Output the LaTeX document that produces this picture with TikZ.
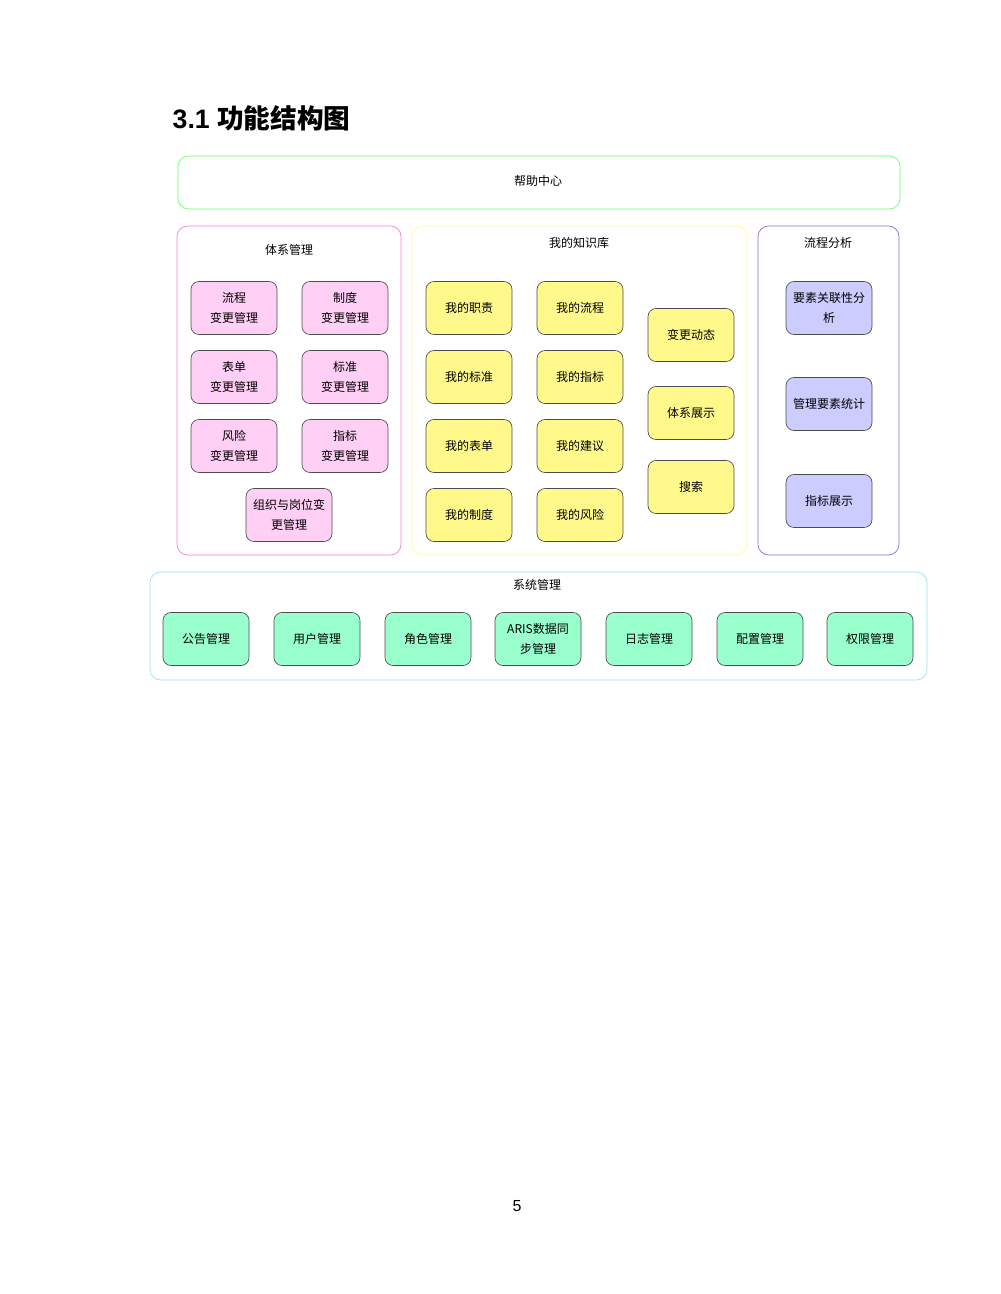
\documentclass[tikz,border=0pt]{standalone}
\usepackage{fontspec}
\setmainfont{Liberation Sans}
\newfontfamily\cjk{Noto Sans CJK SC}
\newfontfamily\cjkb{Noto Sans CJK SC Bold}
\begin{document}
\begin{tikzpicture}[x=0.75pt,y=-0.75pt,
 cont/.style={draw=#1,rounded corners=8pt,line width=0.5pt},
 box/.style={draw=black!70,fill=#1,rounded corners=6pt,minimum width=64.5pt,minimum height=39.75pt,align=center,font=\cjk\fontsize{9}{15}\selectfont,inner sep=1pt,line width=0.5pt},
 lab/.style={font=\cjk\fontsize{9}{11}\selectfont}]
\useasboundingbox (0,0) rectangle (1000,1294);
\node[anchor=west,font=\bfseries\fontsize{20}{24}\selectfont] (title) at (168,118) {3.1 {\cjk\bfseries 功能结构图}};
% containers
\draw[cont=green!60] (178,156) rectangle (900,209);
\node[lab] (help) at (538,181) {帮助中心};
\draw[cont=magenta!50] (177,226) rectangle (401,555);
\node[lab] (tx) at (289,250) {体系管理};
\draw[cont=yellow!40] (412,226) rectangle (747,555);
\node[lab] (zs) at (579,243) {我的知识库};
\draw[cont=blue!50!violet!60] (758,226) rectangle (899,555);
\node[lab] (lc) at (828,243) {流程分析};
\draw[cont=cyan!40] (150,572) rectangle (927,680);
\node[lab] (xt) at (537,585) {系统管理};
% pink
\def\pk{pink!50!magenta!30}
\node[box=\pk] (p1) at (234,308) {流程\\变更管理};
\node[box=\pk] (p2) at (345,308) {制度\\变更管理};
\node[box=\pk] (p3) at (234,377) {表单\\变更管理};
\node[box=\pk] (p4) at (345,377) {标准\\变更管理};
\node[box=\pk] (p5) at (234,446) {风险\\变更管理};
\node[box=\pk] (p6) at (345,446) {指标\\变更管理};
\node[box=\pk] (p7) at (289,515) {组织与岗位变\\更管理};
% yellow
\def\yl{yellow!45}
\node[box=\yl] (y1) at (469,308) {我的职责};
\node[box=\yl] (y2) at (580,308) {我的流程};
\node[box=\yl] (y3) at (469,377) {我的标准};
\node[box=\yl] (y4) at (580,377) {我的指标};
\node[box=\yl] (y5) at (469,446) {我的表单};
\node[box=\yl] (y6) at (580,446) {我的建议};
\node[box=\yl] (y7) at (469,515) {我的制度};
\node[box=\yl] (y8) at (580,515) {我的风险};
\node[box=\yl] (y9) at (691,335) {变更动态};
\node[box=\yl] (y10) at (691,413) {体系展示};
\node[box=\yl] (y11) at (691,487) {搜索};
% purple
\def\pu{blue!20}
\node[box=\pu] (u1) at (829,308) {要素关联性分\\析};
\node[box=\pu] (u2) at (829,404) {管理要素统计};
\node[box=\pu] (u3) at (829,501) {指标展示};
% green
\def\gr{green!50!cyan!40}
\node[box=\gr] (g1) at (206,639) {公告管理};
\node[box=\gr] (g2) at (317,639) {用户管理};
\node[box=\gr] (g3) at (428,639) {角色管理};
\node[box=\gr] (g4) at (538,639) {ARIS数据同\\步管理};
\node[box=\gr] (g5) at (649,639) {日志管理};
\node[box=\gr] (g6) at (760,639) {配置管理};
\node[box=\gr] (g7) at (870,639) {权限管理};
\node[font=\fontsize{12}{14}\selectfont] (pg) at (517,1206) {5};
\end{tikzpicture}
\end{document}
